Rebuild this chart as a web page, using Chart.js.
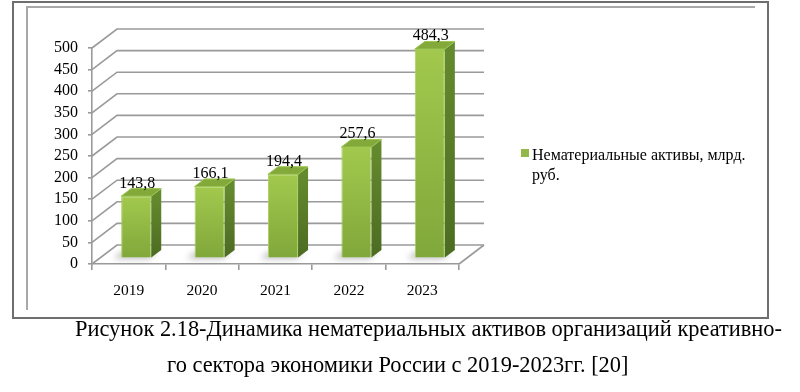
<!DOCTYPE html>
<html>
<head>
<meta charset="utf-8">
<script src="https://cdn.jsdelivr.net/npm/chart.js@4.4.1/dist/chart.umd.min.js"></script>
<style>
  body { margin: 0; background: #fff; }
  #wrap { position: relative; width: 800px; height: 392px; overflow: hidden; font-family: "Liberation Serif", "Times New Roman", serif; }
  #frame { position: absolute; left: 12px; top: 1px; width: 753px; height: 314px; border: 2px solid #6e6e6e; }
  #innerTop { position: absolute; left: 27px; top: 6px; width: 728px; height: 2px; background: #a8a8a8; }
  #innerLeft { position: absolute; left: 26px; top: 6px; width: 2px; height: 304px; background: #a8a8a8; }
  #chart { position: absolute; left: 0; top: 0; }
  #legend { position: absolute; left: 521px; top: 145px; width: 235px; font-size: 16px; line-height: 20px; color: #000; }
  #legend .box { position: absolute; left: 0; top: 4px; width: 8px; height: 8px; background: #92b84a; }
  #legend .txt { margin-left: 11px; }
  .cap { position: absolute; font-size: 22.4px; line-height: 36px; white-space: nowrap; color: #000; }
  #cap1 { left: 75px; top: 311px; }
  #cap2 { left: 167px; top: 347px; }
</style>
</head>
<body>
<div id="wrap">
  <div id="frame"></div>
  <div id="innerTop"></div>
  <div id="innerLeft"></div>
  <canvas id="chart" width="800" height="392"></canvas>
  <div id="legend"></div>
  <div class="cap" id="cap1">Рисунок 2.18-Динамика нематериальных активов организаций креативно-</div>
  <div class="cap" id="cap2">го сектора экономики России с 2019-2023гг. [20]</div>
</div>
<script>
const years = ["2019", "2020", "2021", "2022", "2023"];
const assets = [143.8, 166.1, 194.4, 257.6, 484.3];
const seriesName = "Нематериальные активы, млрд. руб.";
const yTicks = { min: 0, max: 500, step: 50 };

// depth of the fake 3d box: back wall offset, bar sits between 0.3 and 0.7 of it
const DX = 25, DY = -19;
const Z0 = 0.3, Z1 = 0.7;
const gridColor = '#9a9a9a';
const serif = '"Liberation Serif", "Times New Roman", serif';

document.querySelector('#legend').innerHTML =
    '<div class="box"></div><div class="txt">' + seriesName + '</div>';

function frontFill(context) {
    const chart = context.chart;
    const y = chart.scales.y;
    if (!chart.chartArea || context.parsed === undefined) {
        return '#92bd43';
    }
    const top = y.getPixelForValue(context.parsed.y);
    const bottom = y.getPixelForValue(0);
    const g = chart.ctx.createLinearGradient(0, top, 0, bottom);
    g.addColorStop(0, '#a2c94d');
    g.addColorStop(1, '#80a73a');
    return g;
}

const box3d = {
    id: 'box3d',
    beforeDatasetsDraw(chart) {
        const ctx = chart.ctx;
        const area = chart.chartArea;
        const y = chart.scales.y;
        ctx.save();
        ctx.strokeStyle = gridColor;
        ctx.lineWidth = 1.6;
        y.ticks.forEach(t => {
            const py = y.getPixelForValue(t.value);
            ctx.beginPath();
            ctx.moveTo(area.left, py);
            ctx.lineTo(area.left + DX, py + DY);
            ctx.lineTo(area.right + DX, py + DY);
            ctx.stroke();
        });
        ctx.beginPath();
        ctx.moveTo(area.right, area.bottom);
        ctx.lineTo(area.right + DX, area.bottom + DY);
        ctx.stroke();

        // soft shadows on the floor
        const meta = chart.getDatasetMeta(0);
        ctx.filter = 'blur(3px)';
        ctx.fillStyle = 'rgba(0,0,0,0.28)';
        meta.data.forEach(el => {
            const l = el.x - el.width / 2 + DX * Z0;
            const r = el.x + el.width / 2 + DX * Z0;
            const b = el.base + DY * Z0;
            ctx.beginPath();
            ctx.moveTo(l - 8, b + 1);
            ctx.lineTo(r - 2, b + 1);
            ctx.lineTo(r + 6, b - 6);
            ctx.lineTo(l + 2, b - 6);
            ctx.closePath();
            ctx.fill();
        });
        ctx.restore();

        ctx.save();
        ctx.translate(DX * Z0, DY * Z0);
    },
    afterDatasetsDraw(chart) {
        const ctx = chart.ctx;
        ctx.restore();
        const meta = chart.getDatasetMeta(0);
        const sdx = DX * (Z1 - Z0), sdy = DY * (Z1 - Z0);
        ctx.save();
        meta.data.forEach((el, i) => {
            const l = el.x - el.width / 2 + DX * Z0;
            const r = el.x + el.width / 2 + DX * Z0;
            const t = el.y + DY * Z0;
            const b = el.base + DY * Z0;

            const sg = ctx.createLinearGradient(0, t, 0, b);
            sg.addColorStop(0, '#648a2e');
            sg.addColorStop(1, '#4c6b22');
            ctx.fillStyle = sg;
            ctx.beginPath();
            ctx.moveTo(r, t);
            ctx.lineTo(r + sdx, t + sdy);
            ctx.lineTo(r + sdx, b + sdy);
            ctx.lineTo(r, b);
            ctx.closePath();
            ctx.fill();

            ctx.fillStyle = '#82a93a';
            ctx.strokeStyle = '#9cc651';
            ctx.lineWidth = 1;
            ctx.beginPath();
            ctx.moveTo(l, t);
            ctx.lineTo(r, t);
            ctx.lineTo(r + sdx, t + sdy);
            ctx.lineTo(l + sdx, t + sdy);
            ctx.closePath();
            ctx.fill();
            ctx.stroke();

            ctx.fillStyle = '#000';
            ctx.font = '16px ' + serif;
            ctx.textAlign = 'center';
            ctx.textBaseline = 'alphabetic';
            ctx.fillText(assets[i].toFixed(1).replace('.', ','), (l + r) / 2 + 1, t + sdy - 1);
        });
        ctx.restore();
    }
};

const ctx = document.getElementById('chart').getContext('2d');
const assetsChart = new Chart(ctx, {
    type: 'bar',
    data: {
        labels: years,
        datasets: [{
            label: seriesName,
            data: assets,
            backgroundColor: frontFill,
            borderColor: '#a8d15c',
            borderWidth: 1,
            categoryPercentage: 1,
            barPercentage: 0.41,
            clip: false
        }]
    },
    options: {
        responsive: false,
        animation: false,
        layout: { padding: { top: 48, right: 341, bottom: 88, left: 0 } },
        plugins: {
            legend: { display: false },
            tooltip: { enabled: false }
        },
        scales: {
            x: {
                grid: { drawOnChartArea: false, drawTicks: true, tickLength: 6, color: gridColor, lineWidth: 1.6 },
                border: { display: true, color: gridColor, width: 1.6 },
                ticks: { color: '#000', font: { family: serif, size: 15.5 }, padding: 12 },
                afterFit(scale) { scale.height = 40; }
            },
            y: {
                min: yTicks.min,
                max: yTicks.max,
                grid: { drawOnChartArea: false, drawTicks: true, tickLength: 4, color: gridColor, lineWidth: 1.6 },
                border: { display: true, color: gridColor, width: 1.6 },
                ticks: { stepSize: yTicks.step, autoSkip: false, color: '#000', font: { family: serif, size: 16 }, padding: 10 },
                afterFit(scale) { scale.width = 92; }
            }
        }
    },
    plugins: [box3d]
});
</script>
</body>
</html>
